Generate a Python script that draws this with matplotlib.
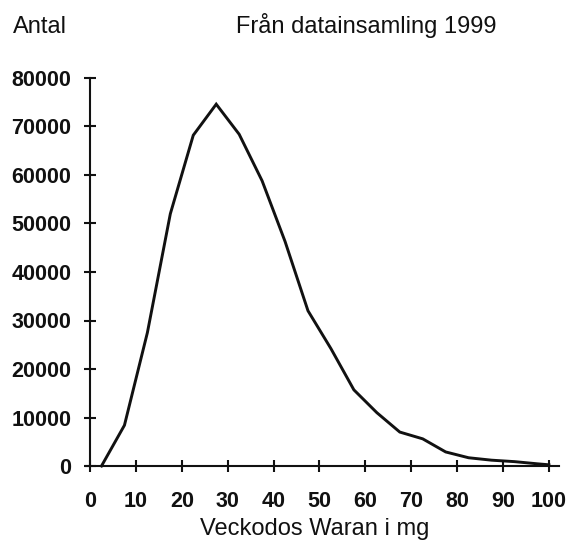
import matplotlib
matplotlib.use("Agg")
import matplotlib.pyplot as plt

# Data
dose_mg = [2.5, 7.5, 12.5, 17.5, 22.5, 27.5, 32.5, 37.5, 42.5, 47.5,
           52.5, 57.5, 62.5, 67.5, 72.5, 77.5, 82.5, 87.5, 92.5, 97.5, 100]
antal = [0, 8400, 27500, 52000, 68200, 74600, 68400, 58800, 46300, 32000,
         24200, 15700, 11000, 7000, 5600, 2900, 1700, 1200, 900, 450, 250]
x_ticks = [0, 10, 20, 30, 40, 50, 60, 70, 80, 90, 100]
y_ticks = [0, 10000, 20000, 30000, 40000, 50000, 60000, 70000, 80000]

plt.rcParams['font.family'] = ['Liberation Sans', 'DejaVu Sans']
ink = '#111111'

fig = plt.figure(figsize=(5.68, 5.4), dpi=100)
W, H = 568, 540
x0px, x1px = 85.9, 559.0
y0px, y1px = 466.0, 78.0
ax = fig.add_axes([x0px / W, (H - y0px) / H, (x1px - x0px) / W, (y0px - y1px) / H])

ax.plot(dose_mg, antal, color=ink, lw=2.1, clip_on=False, solid_joinstyle='miter')

ax.set_xlim(-0.9, 102.2)
ax.set_ylim(0, 80000)

for s in ['top', 'right']:
    ax.spines[s].set_visible(False)
ax.spines['left'].set_position(('data', 0))
ax.spines['left'].set_bounds(0, 80000)
for s in ['left', 'bottom']:
    ax.spines[s].set_linewidth(1.5)
    ax.spines[s].set_color(ink)

ax.set_xticks(x_ticks)
ax.set_xticklabels([str(v) for v in x_ticks])
ax.set_yticks(y_ticks)
ax.set_yticklabels([str(v) for v in y_ticks])
ax.tick_params(axis='both', direction='inout', length=9, width=1.5, color=ink,
               labelsize=15.5, labelcolor=ink)
ax.tick_params(axis='x', pad=13.5)
ax.tick_params(axis='y', pad=9)
for lab in ax.get_xticklabels() + ax.get_yticklabels():
    lab.set_fontweight('bold')

fig.text(13 / W, 1 - 33 / H, 'Antal', fontsize=17, color=ink, ha='left', va='baseline')
fig.text(366 / W, 1 - 33 / H, 'Från datainsamling 1999', fontsize=17, color=ink,
         ha='center', va='baseline')
fig.text(315 / W, 1 - 535 / H, 'Veckodos Waran i mg', fontsize=17, color=ink,
         ha='center', va='baseline')

fig.savefig('out.png', dpi=100, facecolor='white')
